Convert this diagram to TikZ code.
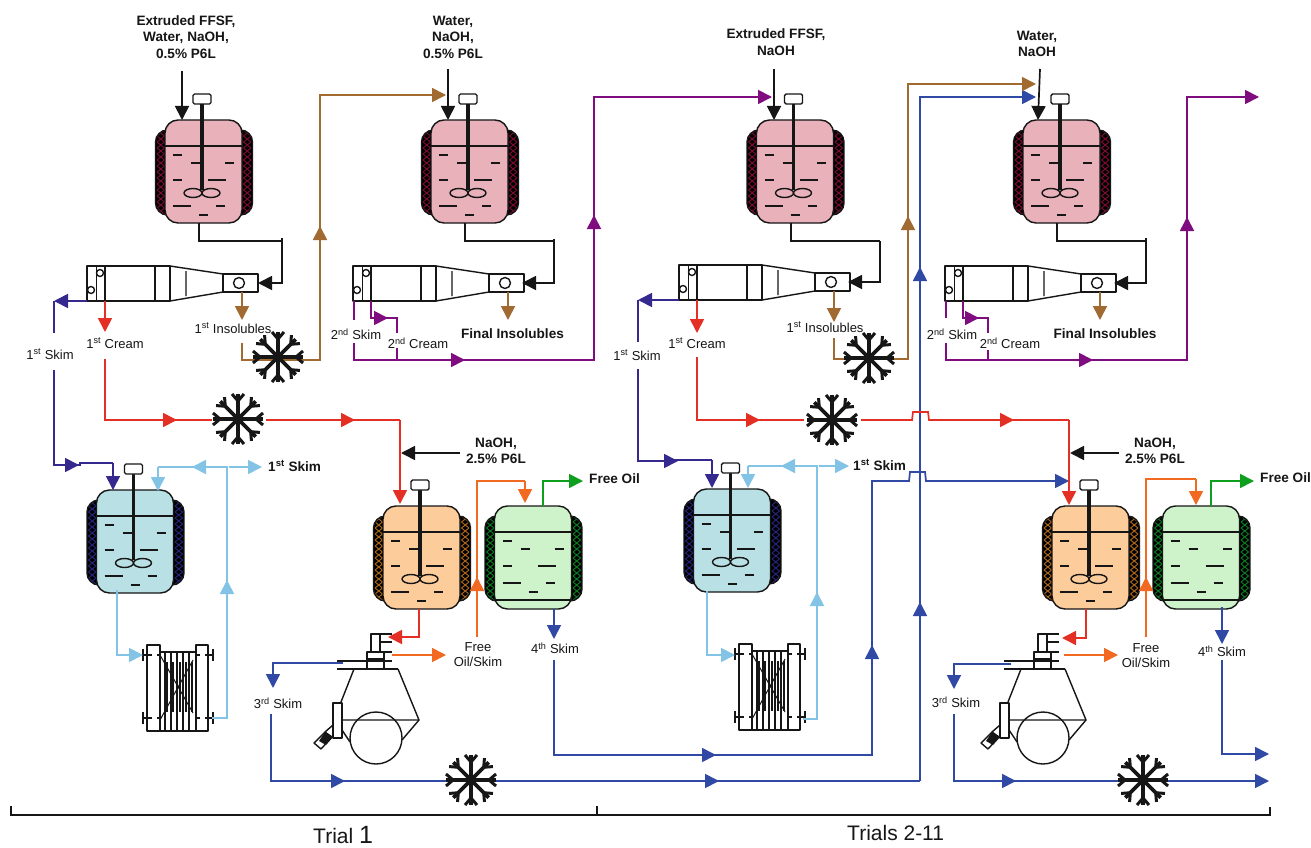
\documentclass[tikz,border=0pt]{standalone}
\usepackage{fontspec}
\setmainfont{Liberation Sans}
\usetikzlibrary{arrows.meta}
\definecolor{cBrown}{HTML}{A06A30}
\definecolor{cPurple}{HTML}{800D80}
\definecolor{cViolet}{HTML}{35288F}
\definecolor{cRed}{HTML}{E43024}
\definecolor{cSky}{HTML}{82C3E6}
\definecolor{cBlue}{HTML}{3049A5}
\definecolor{cOrange}{HTML}{F26A21}
\definecolor{cGreen}{HTML}{0F9F1E}
\definecolor{cInk}{HTML}{161616}
\definecolor{fPink}{HTML}{E9B1BA}
\definecolor{fAqua}{HTML}{B9E0E4}
\definecolor{fPeach}{HTML}{FCCD9B}
\definecolor{fMint}{HTML}{CEF3CB}
\definecolor{jPink}{HTML}{7A0C32}
\definecolor{jAqua}{HTML}{25237A}
\definecolor{jPeach}{HTML}{A8641A}
\definecolor{jMint}{HTML}{0A7A20}
\newcommand{\midtip}[3]{\draw[flow,#1,tip] #2 -- #3;}
\newcommand{\sups}[1]{\textsuperscript{#1}}
\tikzset{
  flow/.style={line width=1.7pt,line cap=butt,line join=miter},
  tip/.style={-{Triangle[length=14pt,width=14pt]}},
  eq/.style={draw=cInk,line width=1.4pt,line join=round},
  lab/.style={font=\fontsize{13}{15}\selectfont,text=cInk,inner sep=0pt,align=center},
  blab/.style={font=\fontsize{13.6}{16.4}\selectfont\bfseries,text=cInk,inner sep=0pt,align=center},
  tlab/.style={font=\fontsize{21}{24}\selectfont,text=cInk,inner sep=0pt,anchor=base west},
  pics/vessel/.style n args={2}{code={
    \begin{scope}
      \path[clip,rounded corners=12pt] (-48,10) rectangle (49,95);
      \fill[black] (-48,10) rectangle (49,95);
      \foreach \k in {10,16,...,94}{
        \draw[#2,line width=1pt] (-46.5,\k)--(-39,\k+6) (-39,\k)--(-46.5,\k+6)
          (40,\k)--(47.5,\k+6) (47.5,\k)--(40,\k+6);
      }
    \end{scope}
    \draw[eq,rounded corners=12pt] (-48,10) rectangle (49,95);
    \draw[eq,fill=#1,rounded corners=13pt] (-38.5,0) rectangle (38.5,103);
    \draw[eq] (-38.5,26) -- (38.5,26);
  }},
  pics/liquid/.style={code={
    \draw[cInk,line width=1.5pt]
      (-30.5,35)--(-21.5,35) (-12.5,43)--(-3.5,43) (21.5,43)--(30.5,43)
      (-30.5,60)--(-21.5,60) (4.5,60)--(22.5,60)
      (-30.5,86)--(-12.5,86) (12.5,86)--(21.5,86) (-4.5,95)--(4.5,95);
  }},
  pics/liquidb/.style={code={
    \draw[cInk,line width=1.5pt]
      (-30.5,35)--(-21.5,35) (-12.5,43)--(-3.5,43) (21.5,43)--(30.5,43)
      (-30.5,60)--(-21.5,60) (4.5,60)--(22.5,60)
      (-30.5,77)--(-12.5,77) (12.5,77)--(21.5,77) (-4.5,86)--(4.5,86);
    \draw[eq] (-38.5,94)--(38.5,94);
  }},
  pics/stirrer/.style={code={
    \draw[cInk,line width=3.8pt] (-1.5,-18)--(-1.5,70);
    \draw[eq,fill=white,rounded corners=1.5pt] (-10.5,-26) rectangle (7.5,-16);
    \draw[eq] (-10.5,73) ellipse [x radius=9pt,y radius=4.5pt];
    \draw[eq] (7.5,73) ellipse [x radius=9pt,y radius=4.5pt];
  }},
  pics/separator/.style={code={
    \draw[eq] (0,0) rectangle (83,35);
    \draw[eq] (9.5,0)--(9.5,35) (18,0)--(18,35) (68,0)--(68,35);
    \draw[eq] (83,0)--(136,8) (83,35)--(136,26) (99,5)--(99,30);
    \draw[eq] (136,8) rectangle (171,26);
    \draw[eq] (152,17) circle[radius=5.5pt];
    \draw[eq,fill=white] (13,7) circle[radius=3.5pt];
    \draw[eq,fill=white] (4,24) circle[radius=3.5pt];
  }},
  pics/filterpress/.style={code={
    \draw[eq] (147,645) rectangle (160,731) (196,645) rectangle (208,731);
    \draw[eq] (160,652)--(196,652) (160,731)--(196,731);
    \draw[eq] (165,652)--(165,731) (171,652)--(171,731) (177,652)--(177,731)
      (183,652)--(183,731) (189,652)--(189,731);
    \draw[cInk,line width=2.2pt] (167,662)--(167,712) (173,662)--(173,712) (180,662)--(180,712)
      (186,662)--(186,712) (192,662)--(192,712);
    \draw[cInk,line width=1pt] (160,655)--(193,713) (160,720)--(193,660);
    \draw[eq] (143,649)--(143,661) (143,712)--(143,724) (213,649)--(213,661) (213,712)--(213,724);
    \draw[eq] (143,655)--(152,655) (157,655)--(160,655) (143,718)--(152,718) (157,718)--(160,718)
      (196,655)--(200,655) (205,655)--(213,655) (196,718)--(200,718) (205,718)--(213,718);
  }},
  pics/decanter/.style={code={
    \draw[eq] (371,652)--(371,634)--(392,634) (380,652)--(380,634) (380,642)--(392,642);
    \draw[eq] (367,669)--(367,652)--(392,652) (384,652)--(384,669);
    \draw[eq] (337,661)--(392,661) (337,669)--(398,669) (367,659)--(384,659);
    \draw[eq] (354,669)--(341,702) (398,669)--(419,720)--(402,740);
    \draw[eq] (341,720)--(419,720) (342,730)--(350,742);
    \draw[eq] (376,738) circle[radius=26pt];
    \draw[eq,fill=white] (333,703) rectangle (342,738);
    \draw[eq] (333,725)--(325,732);
    \draw[eq,fill=white] (314,743)--(325,732)--(332,737)--(321,749)--cycle;
    \fill[cInk] (319,741)--(325,732)--(333,737)--(326,745)--cycle;
  }},
  pics/snow/.style={code={
    \foreach \a in {0,45,...,315}{
      \begin{scope}[rotate=\a]
        \draw[cInk,line width=3.8pt] (0,0)--(25,0);
        \draw[cInk,line width=3pt] (18,0)--(25,6) (18,0)--(25,-6);
      \end{scope}
    }
  }}
}
\begin{document}
\begin{tikzpicture}[x=1pt,y=-1pt]
\useasboundingbox (0,0) rectangle (1311,848);
\fill[white] (0,0) rectangle (1311,848);

% ---- connector ends
\coordinate (rOneFeed) at (182,71);   \coordinate (rOneIn) at (182,120);
\coordinate (rOneOut) at (199,223);   \coordinate (sepOneIn) at (258,283);
\coordinate (rTwoFeed) at (448,69);   \coordinate (rTwoIn) at (448,120);
\coordinate (rTwoOut) at (465,223);   \coordinate (sepTwoIn) at (522,283);
\coordinate (rThreeFeed) at (774,69); \coordinate (rThreeIn) at (774,120);
\coordinate (rThreeOut) at (791,223); \coordinate (sepThreeIn) at (848,282);
\coordinate (rFourFeed) at (1040,69); \coordinate (rFourIn) at (1038,120);
\coordinate (rFourOut) at (1057,223); \coordinate (sepFourIn) at (1114,283);
\coordinate (sepOneSkim) at (87,301); \coordinate (sepOneCream) at (105,301);
\coordinate (sepOneSolid) at (242,292);
\coordinate (sepTwoSkim) at (354,301); \coordinate (sepTwoCream) at (371,301);
\coordinate (sepTwoSolid) at (508,292);
\coordinate (sepThreeSkim) at (679,300); \coordinate (sepThreeCream) at (697,300);
\coordinate (sepThreeSolid) at (834,291);
\coordinate (sepFourSkim) at (946,301); \coordinate (sepFourCream) at (963,301);
\coordinate (sepFourSolid) at (1100,292);
\coordinate (rFiveIn) at (113,490);  \coordinate (rSixIn) at (712,488);
\coordinate (naohA) at (460,453);    \coordinate (naohAT) at (401,453);
\coordinate (naohB) at (1119,453);   \coordinate (naohBT) at (1070,453);

% ---- equipment
\pic at (203.5,120) {vessel={fPink}{jPink}};  \pic at (203.5,120) {liquid}; \pic at (203.5,120) {stirrer};
\pic at (469.5,120) {vessel={fPink}{jPink}};  \pic at (469.5,120) {liquid}; \pic at (469.5,120) {stirrer};
\pic at (795,120)   {vessel={fPink}{jPink}};  \pic at (795,120)   {liquid}; \pic at (795,120)   {stirrer};
\pic at (1061.5,120){vessel={fPink}{jPink}};  \pic at (1061.5,120){liquid}; \pic at (1061.5,120){stirrer};
\pic at (135,490)   {vessel={fAqua}{jAqua}};  \pic at (135,490)   {liquid}; \pic at (135,490)   {stirrer};
\pic at (732,489)   {vessel={fAqua}{jAqua}};  \pic at (732,489)   {liquid}; \pic at (732,489)   {stirrer};
\pic at (421.5,506) {vessel={fPeach}{jPeach}};\pic at (421.5,506) {liquid}; \pic at (421.5,506) {stirrer};
\pic at (1090.5,506){vessel={fPeach}{jPeach}};\pic at (1090.5,506){liquid}; \pic at (1090.5,506){stirrer};
\pic at (533,506)   {vessel={fMint}{jMint}};  \pic at (533,506)   {liquidb};
\pic at (1201,506)  {vessel={fMint}{jMint}};  \pic at (1201,506)  {liquidb};
\pic at (87,266)  {separator};
\pic at (353,266) {separator};
\pic at (679,265) {separator};
\pic at (945,266) {separator};
\pic at (0,0)    {filterpress};
\pic at (592,-1) {filterpress};
\pic at (0,0)    {decanter};
\pic at (667,0)  {decanter};

% ---- black feeds and transfers
\draw[flow,cInk,tip] (rOneFeed) -- (rOneIn);
\draw[flow,cInk,tip] (rTwoFeed) -- (rTwoIn);
\draw[flow,cInk,tip] (rThreeFeed) -- (rThreeIn);
\draw[flow,cInk,tip] (rFourFeed) -- (rFourIn);
\draw[flow,cInk] (rOneOut) -- (199,241) -- (282,241);
\draw[flow,cInk,tip] (282,238) -- (282,283) -- (sepOneIn);
\draw[flow,cInk] (rTwoOut) -- (465,241) -- (554,241);
\draw[flow,cInk,tip] (554,239) -- (554,283) -- (sepTwoIn);
\draw[flow,cInk] (rThreeOut) -- (791,241) -- (880,241);
\draw[flow,cInk,tip] (880,241) -- (880,282) -- (sepThreeIn);
\draw[flow,cInk] (rFourOut) -- (1057,241) -- (1146,241);
\draw[flow,cInk,tip] (1146,238) -- (1146,283) -- (sepFourIn);
\draw[flow,cInk,tip] (naohA) -- (naohAT);
\draw[flow,cInk,tip] (naohB) -- (naohBT);

% ---- trial 1 streams
\draw[flow,cViolet,tip] (sepOneSkim) -- (54,301);
\draw[flow,cViolet] (54,301) -- (54,333);
\draw[flow,cViolet] (54,370) -- (54,465) -- (80,465) -- (80,463) -- (113,463);
\draw[flow,cViolet,tip] (113,463) -- (rFiveIn);
\midtip{cViolet}{(65,465)}{(79,465)}
\draw[flow,cRed,tip] (sepOneCream) -- (105,332);
\draw[flow,cRed] (105,359) -- (105,420) -- (212,420);
\draw[flow,cRed] (266,420) -- (400,420);
\draw[flow,cRed,tip] (400,420) -- (400,504);
\midtip{cRed}{(163,420)}{(177,420)}
\midtip{cRed}{(341,420)}{(355,420)}
\draw[flow,cBrown,tip] (sepOneSolid) -- (242,320);
\draw[flow,cBrown,tip] (242,343) -- (242,360) -- (320,360) -- (320,95) -- (446,95);
\midtip{cBrown}{(320,240)}{(320,226)}
\draw[flow,cPurple] (sepTwoSkim) -- (354,320);
\draw[flow,cPurple,tip] (354,343) -- (354,360) -- (594,360) -- (594,97) -- (772,97);
\midtip{cPurple}{(451,360)}{(465,360)}
\midtip{cPurple}{(594,229)}{(594,215)}
\draw[flow,cPurple] (sepTwoCream) -- (371,318) -- (397,318) -- (397,333);
\draw[flow,cPurple] (397,348) -- (397,360);
\midtip{cPurple}{(374,318)}{(388,318)}
\draw[flow,cBrown,tip] (sepTwoSolid) -- (508,320);
\draw[flow,cSky,tip] (117,590) -- (117,655) -- (143,655);
\draw[flow,cSky] (212,718) -- (227,718) -- (227,467) -- (158,467);
\draw[flow,cSky,tip] (158,467) -- (158,491);
\midtip{cSky}{(227,594)}{(227,580)}
\midtip{cSky}{(206,467)}{(192,467)}
\draw[flow,cSky,tip] (229,467) -- (262,467);
\draw[flow,cRed] (419,609) -- (419,637) -- (405,637);
\draw[flow,cRed,tip] (405,637) -- (388,637);
\draw[flow,cOrange,tip] (392,655) -- (446,655);
\draw[flow,cOrange] (477,637) -- (477,481) -- (525,481);
\draw[flow,cOrange,tip] (525,481) -- (525,503);
\midtip{cOrange}{(477,591)}{(477,577)}
\draw[flow,cGreen,tip] (543,506) -- (543,481) -- (583,481);
\draw[flow,cBlue,tip] (343,663) -- (273,663) -- (273,688);
\draw[flow,cBlue] (271,714) -- (271,781) -- (920,781);
\midtip{cBlue}{(331,781)}{(345,781)}
\midtip{cBlue}{(705,781)}{(719,781)}
\draw[flow,cBlue,tip] (554,609) -- (554,639);
\draw[flow,cBlue] (554,660) -- (554,755) -- (872,755) -- (872,481) -- (909,481)
  -- (910,472) -- (925,472) -- (926,481) -- (1056,481);
\draw[flow,cBlue,tip] (1040,481) -- (1069,481);
\midtip{cBlue}{(702,755)}{(716,755)}
\midtip{cBlue}{(872,659)}{(872,645)}

% ---- trials 2-11 streams
\draw[flow,cBlue,tip] (920,781) -- (920,97) -- (1036,97);
\midtip{cBlue}{(920,616)}{(920,602)}
\midtip{cBlue}{(920,281)}{(920,267)}
\draw[flow,cViolet,tip] (sepThreeSkim) -- (638,300);
\draw[flow,cViolet] (638,300) -- (638,342);
\draw[flow,cViolet] (638,369) -- (638,461) -- (665,461) -- (665,460) -- (712,460);
\draw[flow,cViolet,tip] (712,460) -- (rSixIn);
\midtip{cViolet}{(664,461)}{(678,461)}
\draw[flow,cRed,tip] (sepThreeCream) -- (697,333);
\draw[flow,cRed] (697,357) -- (697,420) -- (804,420);
\draw[flow,cRed] (861,420) -- (912,420) -- (913,412) -- (928,412) -- (929,420) -- (1069,420);
\draw[flow,cRed,tip] (1069,420) -- (1069,505);
\midtip{cRed}{(746,420)}{(760,420)}
\midtip{cRed}{(1000,420)}{(1014,420)}
\draw[flow,cBrown,tip] (sepThreeSolid) -- (834,322);
\draw[flow,cBrown,tip] (834,338) -- (834,359) -- (908,359) -- (908,84) -- (1036,84);
\midtip{cBrown}{(908,230)}{(908,216)}
\draw[flow,cPurple] (sepFourSkim) -- (946,318);
\draw[flow,cPurple,tip] (946,343) -- (946,360) -- (1187,360) -- (1187,97) -- (1259,97);
\midtip{cPurple}{(1079,360)}{(1093,360)}
\midtip{cPurple}{(1187,231)}{(1187,217)}
\draw[flow,cPurple] (sepFourCream) -- (963,318) -- (988,318) -- (988,333);
\draw[flow,cPurple] (988,350) -- (988,360);
\midtip{cPurple}{(965,318)}{(979,318)}
\draw[flow,cBrown,tip] (sepFourSolid) -- (1100,320);
\draw[flow,cSky,tip] (707,591) -- (707,655) -- (735,655);
\draw[flow,cSky] (803,719) -- (817,719) -- (817,466) -- (748,466);
\draw[flow,cSky,tip] (748,466) -- (748,488);
\midtip{cSky}{(817,606)}{(817,592)}
\midtip{cSky}{(795,466)}{(781,466)}
\draw[flow,cSky,tip] (819,466) -- (849,466);
\draw[flow,cRed] (1086,609) -- (1086,638) -- (1080,638);
\draw[flow,cRed,tip] (1080,638) -- (1062,638);
\draw[flow,cOrange,tip] (1064,655) -- (1118,655);
\draw[flow,cOrange] (1146,637) -- (1146,479) -- (1196,479);
\draw[flow,cOrange,tip] (1196,479) -- (1196,505);
\midtip{cOrange}{(1146,591)}{(1146,577)}
\draw[flow,cGreen,tip] (1211,506) -- (1211,481) -- (1254,481);
\draw[flow,cBlue,tip] (1011,664) -- (954,664) -- (954,689);
\draw[flow,cBlue,tip] (954,714) -- (954,781) -- (1269,781);
\midtip{cBlue}{(1002,781)}{(1016,781)}
\draw[flow,cBlue,tip] (1222,607) -- (1222,644);
\draw[flow,cBlue,tip] (1222,660) -- (1222,754) -- (1269,754);

% ---- chillers
\pic at (278,357) {snow};
\pic at (238,419) {snow};
\pic at (471,780) {snow};
\pic at (869,358) {snow};
\pic at (832,420) {snow};
\pic at (1143,780){snow};

% ---- trial brackets
\draw[cInk,line width=1.5pt] (11,806) -- (11,815) -- (1270,815) -- (1270,807);
\draw[cInk,line width=1.5pt] (597,806) -- (597,815);
\node[tlab] (trialOne) at (313,843) {Trial {\fontsize{25}{26}\selectfont 1}};
\node[tlab] (trialsRest) at (847,840) {Trials 2-11};

% ---- labels
\node[blab] (feedA) at (186,37) {Extruded FFSF,\\Water, NaOH,\\0.5\% P6L};
\node[blab] (feedB) at (453,37) {Water,\\NaOH,\\0.5\% P6L};
\node[blab] (feedC) at (776,42) {Extruded FFSF,\\NaOH};
\node[blab] (feedD) at (1037,44) {Water,\\NaOH};
\node[blab] (naohLabA) at (496,451) {NaOH,\\2.5\% P6L};
\node[blab] (naohLabB) at (1155,451) {NaOH,\\2.5\% P6L};
\node[blab] (finalA) at (512.5,334) {Final Insolubles};
\node[blab] (finalB) at (1105,334) {Final Insolubles};
\node[blab,anchor=west] (skimOutA) at (268,466) {1\sups{st} Skim};
\node[blab,anchor=west] (skimOutB) at (853,465) {1\sups{st} Skim};
\node[blab,anchor=west] (oilA) at (589,479) {Free Oil};
\node[blab,anchor=west] (oilB) at (1260,478) {Free Oil};
\node[lab] (sA) at (50,354) {1\sups{st} Skim};
\node[lab] (cA) at (115,343) {1\sups{st} Cream};
\node[lab] (iA) at (233,328) {1\sups{st} Insolubles};
\node[lab] (sB) at (356,334) {2\sups{nd} Skim};
\node[lab] (cB) at (418,343) {2\sups{nd} Cream};
\node[lab] (sC) at (637,355) {1\sups{st} Skim};
\node[lab] (cC) at (697,343) {1\sups{st} Cream};
\node[lab] (iC) at (825,327) {1\sups{st} Insolubles};
\node[lab] (sD) at (952,334) {2\sups{nd} Skim};
\node[lab] (cD) at (1010,343) {2\sups{nd} Cream};
\node[lab] (fA) at (478,655) {Free\\Oil/Skim};
\node[lab] (fB) at (1146,656) {Free\\Oil/Skim};
\node[lab] (tA) at (278,703) {3\sups{rd} Skim};
\node[lab] (tB) at (956,702) {3\sups{rd} Skim};
\node[lab] (qA) at (555,648) {4\sups{th} Skim};
\node[lab] (qB) at (1222,651) {4\sups{th} Skim};
\end{tikzpicture}
\end{document}
